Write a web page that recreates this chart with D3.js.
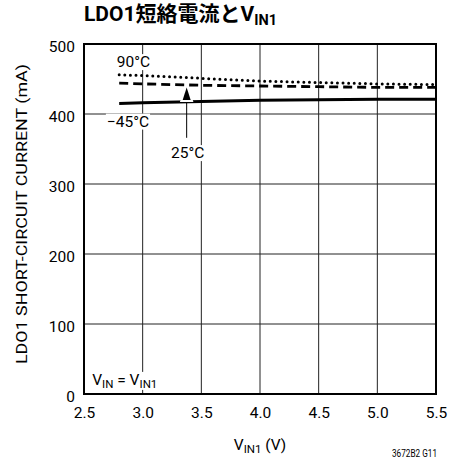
<!DOCTYPE html>
<html>
<head>
<meta charset="utf-8">
<script src="https://cdn.jsdelivr.net/npm/d3@7"></script>
<style>
  body { margin: 0; background: #fff; }
  text { font-family: Roboto, "Noto Sans CJK JP", sans-serif; fill: #000; }
</style>
</head>
<body>
<div id="chart"></div>
<script>
let height = 470,
    width = 463,
    margin = ({ top: 44, right: 27, bottom: 76, left: 84 });

// data
const vin = [2.8, 3.0, 3.5, 4.0, 4.5, 5.0, 5.5];
const iNeg45 = [415, 416, 418, 419.5, 420.5, 421, 421];
const i25 = [444, 443, 441, 440, 439, 438, 438];
const i90 = [456, 455, 451, 447, 445, 443, 442];
const xTicks = [2.5, 3.0, 3.5, 4.0, 4.5, 5.0, 5.5];
const yTicks = [0, 100, 200, 300, 400, 500];

const svg = d3.select("#chart")
  .append("svg")
  .attr("width", width)
  .attr("height", height);

let x = d3.scaleLinear()
  .domain([2.5, 5.5])
  .range([margin.left, width - margin.right]);

let y = d3.scaleLinear()
  .domain([0, 500])
  .range([height - margin.bottom, margin.top]);

// grid
svg.append("g")
  .selectAll("line")
  .data(xTicks.slice(1, -1))
  .join("line")
  .attr("x1", d => x(d)).attr("x2", d => x(d))
  .attr("y1", y(0)).attr("y2", y(500))
  .attr("stroke", "#222").attr("stroke-width", 1);

svg.append("g")
  .selectAll("line")
  .data(yTicks.slice(1, -1))
  .join("line")
  .attr("x1", x(2.5)).attr("x2", x(5.5))
  .attr("y1", d => y(d)).attr("y2", d => y(d))
  .attr("stroke", "#222").attr("stroke-width", 1);

// axes tick labels
svg.append("g")
  .attr("transform", `translate(0,${height - margin.bottom})`)
  .call(d3.axisBottom(x).tickValues(xTicks).tickFormat(d3.format(".1f")).tickSize(0).tickPadding(13))
  .call(g => g.select(".domain").remove())
  .call(g => g.selectAll("text").attr("font-size", 15.5).attr("font-family", null));

svg.append("g")
  .attr("transform", `translate(${margin.left},0)`)
  .call(d3.axisLeft(y).tickValues(yTicks).tickSize(0).tickPadding(9))
  .call(g => g.select(".domain").remove())
  .call(g => g.selectAll("text").attr("font-size", 15.5).attr("font-family", null).attr("dy", "0.5em"));

// label with white box behind it
function boxed(px, py, build, anchor) {
  const g = svg.append("g");
  const t = g.append("text").attr("x", px).attr("y", py)
    .attr("font-size", 15.5).attr("text-anchor", anchor || "start");
  build(t);
  const b = t.node().getBBox();
  g.insert("rect", "text")
    .attr("x", b.x - 1).attr("y", b.y + 1).attr("width", b.width + 2).attr("height", b.height - 2)
    .attr("fill", "#fff");
  return g;
}

boxed(x(2.78), y(467), t => t.text("90°C"));
boxed(x(2.695), y(382), t => t.text("\u221245°C"));
boxed(x(3.525), y(337), t => t.text("25°C"), "end");
boxed(x(2.57), y(13), t => {
  t.append("tspan").text("V");
  t.append("tspan").attr("font-size", 11.5).attr("dy", 3).text("IN");
  t.append("tspan").attr("dy", -3).text(" = V");
  t.append("tspan").attr("font-size", 11.5).attr("dy", 3).text("IN1");
});

// curves
const line = d3.line()
  .x((d, i) => x(vin[i]))
  .y(d => y(d));

svg.append("path")
  .datum(iNeg45)
  .attr("d", line)
  .attr("fill", "none").attr("stroke", "#000").attr("stroke-width", 3);

svg.append("path")
  .datum(i25)
  .attr("d", line)
  .attr("fill", "none").attr("stroke", "#000").attr("stroke-width", 2.8)
  .attr("stroke-dasharray", "9,5");

svg.append("path")
  .datum(i90)
  .attr("d", line)
  .attr("fill", "none").attr("stroke", "#000").attr("stroke-width", 3)
  .attr("stroke-linecap", "round")
  .attr("stroke-dasharray", "0,5.6");

// arrow to 25°C curve
const ax = x(3.375);
svg.append("line")
  .attr("x1", ax).attr("x2", ax)
  .attr("y1", y(366)).attr("y2", y(428))
  .attr("stroke", "#000").attr("stroke-width", 1);
svg.append("path")
  .attr("d", `M${ax},${y(438)} L${ax - 4},${y(420)} L${ax + 4},${y(420)} Z`)
  .attr("fill", "#000").attr("stroke", "#fff").attr("stroke-width", 4)
  .attr("paint-order", "stroke");

// frame
svg.append("rect")
  .attr("x", x(2.5)).attr("y", y(500))
  .attr("width", x(5.5) - x(2.5)).attr("height", y(0) - y(500))
  .attr("fill", "none").attr("stroke", "#000").attr("stroke-width", 2);

// titles
const title = svg.append("text")
  .attr("x", 84).attr("y", 21)
  .attr("font-size", 21).attr("font-weight", "bold");
title.append("tspan").text("LDO1短絡電流とV");
title.append("tspan").attr("font-size", 14.5).attr("dy", 4).text("IN1");

const xt = svg.append("text")
  .attr("x", (x(2.5) + x(5.5)) / 2).attr("y", 450)
  .attr("text-anchor", "middle").attr("font-size", 15.5);
xt.append("tspan").text("V");
xt.append("tspan").attr("font-size", 11.5).attr("dy", 3).text("IN1");
xt.append("tspan").attr("dy", -3).text(" (V)");

svg.append("text")
  .attr("transform", `translate(27,${(y(0) + y(500)) / 2 - 5}) rotate(-90)`)
  .attr("text-anchor", "middle").attr("font-size", 14.5)
  .attr("textLength", 300).attr("lengthAdjust", "spacingAndGlyphs")
  .text("LDO1 SHORT-CIRCUIT CURRENT (mA)");

svg.append("text")
  .attr("x", x(5.5) + 1).attr("y", 457)
  .attr("text-anchor", "end").attr("font-size", 10)
  .attr("textLength", 45).attr("lengthAdjust", "spacingAndGlyphs")
  .text("3672B2 G11");
</script>
</body>
</html>
